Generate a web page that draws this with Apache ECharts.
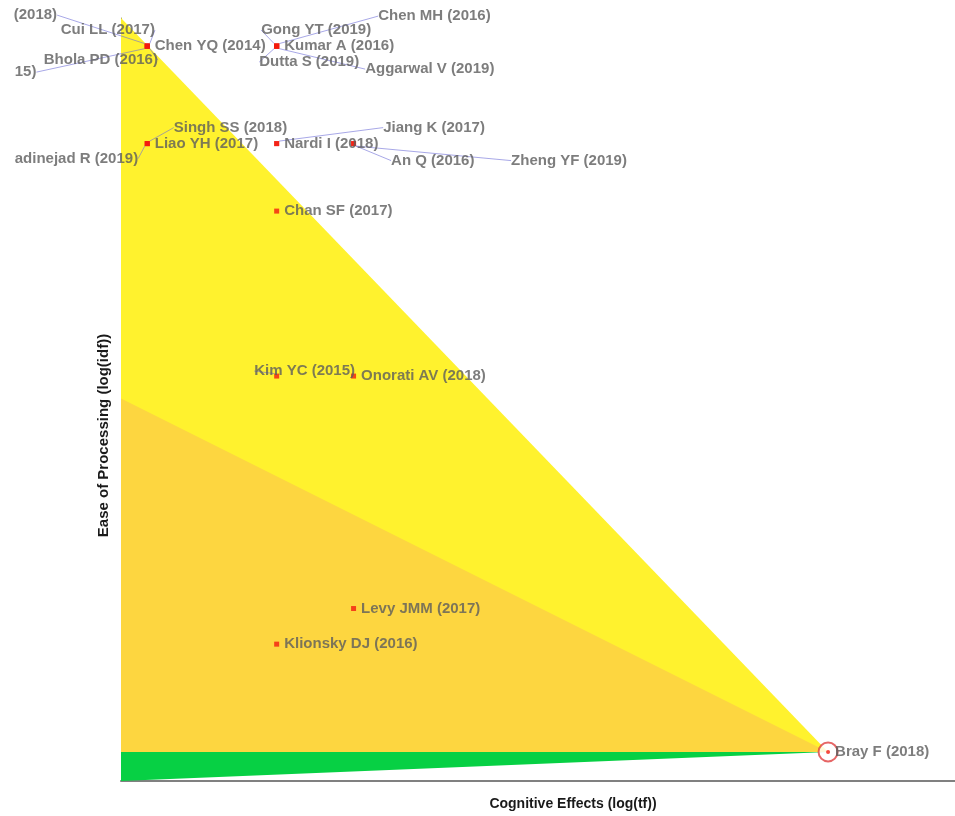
<!DOCTYPE html>
<html>
<head>
<meta charset="utf-8">
<script src="https://cdn.jsdelivr.net/npm/echarts@6/dist/echarts.min.js"></script>
<style>
  html, body { margin: 0; padding: 0; background: #fff; }
  #chart { width: 955px; height: 816px; }
</style>
</head>
<body>
<div id="chart"></div>
<script>
// papers and their position (log(tf), log(idf))
const papers = [
  'Chen YQ (2014)', 'Cui LL (2017)', '(2018)', 'Bhola PD (2016)', '15)',
  'Kumar A (2016)', 'Gong YT (2019)', 'Chen MH (2016)', 'Dutta S (2019)', 'Aggarwal V (2019)',
  'Liao YH (2017)', 'Singh SS (2018)', 'adinejad R (2019)',
  'Nardi I (2018)', 'Jiang K (2017)',
  'An Q (2016)', 'Zheng YF (2019)',
  'Chan SF (2017)', 'Kim YC (2015)', 'Onorati AV (2018)',
  'Levy JMM (2017)', 'Klionsky DJ (2016)', 'Bray F (2018)'
];
const tfLog = [
  0.14, 0.14, 0.14, 0.14, 0.14,
  0.83, 0.83, 0.83, 0.83, 0.83,
  0.14, 0.14, 0.14,
  0.83, 0.83,
  1.24, 1.24,
  0.83, 0.83, 1.24,
  1.24, 0.83, 3.77
];
const idfLog = [
  3.92, 3.92, 3.92, 3.92, 3.92,
  3.92, 3.92, 3.92, 3.92, 3.92,
  3.40, 3.40, 3.40,
  3.40, 3.40,
  3.40, 3.40,
  3.04, 2.16, 2.16,
  0.92, 0.73, 0.155
];

// label shifts (px) for papers that share a point
const labelShift = {
  'Cui LL (2017)': [-94, -16],
  '(2018)': [-141, -31],
  'Bhola PD (2016)': [-111, 14],
  '15)': [-140, 26],
  'Gong YT (2019)': [-23, -16],
  'Chen MH (2016)': [94, -30],
  'Dutta S (2019)': [-25, 16],
  'Aggarwal V (2019)': [81, 23],
  'Singh SS (2018)': [19, -16],
  'adinejad R (2019)': [-140, 15],
  'Jiang K (2017)': [99, -16],
  'An Q (2016)': [30, 17],
  'Zheng YF (2019)': [150, 17],
  'Kim YC (2015)': [-30, -5]
};

// shaded zones, vertices in axis units
const zoneYellow = [[0, 4.07], [3.77, 0.155], [0, 0.155]];
const zoneOrange = [[0, 2.04], [3.77, 0.155], [0, 0.155]];
const zoneGreen = [[0, 0.155], [3.77, 0.155], [0, 0]];
const zones = [zoneYellow, zoneOrange, zoneGreen];
const zoneColors = ['#fff22e', '#fdd640', '#07d044'];

const highlighted = 'Bray F (2018)';

let pointData = papers.map((name, i) => {
  const item = { name: name, value: [tfLog[i], idfLog[i]] };
  if (labelShift[name]) {
    item.labelLine = { show: true };
  }
  if (name === highlighted) {
    item.symbol = 'circle';
    item.symbolSize = 4;
  }
  return item;
});

let options = {
  animation: false,
  grid: {
    left: 121,
    top: 18,
    width: 904,
    height: 763,
    containLabel: false,
    outerBoundsMode: 'none'
  },
  xAxis: {
    type: 'value',
    min: 0,
    max: 4.82,
    name: 'Cognitive Effects (log(tf))',
    nameLocation: 'middle',
    nameGap: 16,
    nameTextStyle: { fontFamily: 'Liberation Sans', fontWeight: 'bold', fontSize: 14, color: '#1a1a1a' },
    axisLine: { show: true, lineStyle: { color: '#808080', width: 2 } },
    axisTick: { show: false },
    axisLabel: { show: false },
    splitLine: { show: false }
  },
  yAxis: {
    type: 'value',
    min: 0,
    max: 4.07,
    name: 'Ease of Processing (log(idf))',
    nameLocation: 'middle',
    nameGap: 10,
    nameTextStyle: { fontFamily: 'Liberation Sans', fontWeight: 'bold', fontSize: 15, color: '#1a1a1a', padding: [0, 72, 0, 0] },
    axisLine: { show: true, lineStyle: { color: '#9a9a70', width: 1 } },
    axisTick: { show: false },
    axisLabel: { show: false },
    splitLine: { show: false }
  },
  series: [
    {
      type: 'custom',
      silent: true,
      z: 1,
      data: zones.map((z, i) => i),
      renderItem: (params, api) => {
        const idx = params.dataIndex;
        const pts = zones[idx].map(p => api.coord(p));
        return {
          type: 'polygon',
          shape: { points: pts },
          style: { fill: zoneColors[idx] }
        };
      }
    },
    {
      type: 'scatter',
      z: 5,
      symbol: 'rect',
      symbolSize: 5,
      itemStyle: { color: '#f21b0f' },
      label: {
        show: true,
        position: 'right',
        distance: 5,
        formatter: '{b}',
        fontFamily: 'Liberation Sans',
        fontWeight: 'bold',
        fontSize: 15,
        color: '#5c5c5c'
      },
      labelLine: {
        lineStyle: { color: 'rgba(110,110,215,0.6)', width: 1 }
      },
      labelLayout: (params) => {
        const s = labelShift[papers[params.dataIndex]];
        return s ? { dx: s[0], dy: s[1] } : {};
      },
      data: pointData
    },
    {
      type: 'scatter',
      z: 4,
      symbol: 'emptyCircle',
      symbolSize: 19,
      itemStyle: { color: '#e04040', borderColor: '#e04040', borderWidth: 1 },
      data: [[tfLog[papers.indexOf(highlighted)], idfLog[papers.indexOf(highlighted)]]]
    }
  ]
};

let chart = echarts.init(document.getElementById('chart'));
chart.setOption(options);
</script>
</body>
</html>
